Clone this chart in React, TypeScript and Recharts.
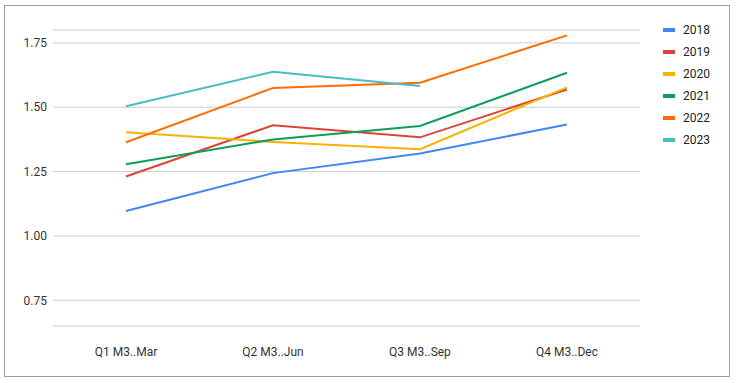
import React from "react";
import { LineChart, Line, XAxis, YAxis, CartesianGrid, Legend } from "recharts";

const categories = ["Q1 M3..Mar", "Q2 M3..Jun", "Q3 M3..Sep", "Q4 M3..Dec"];
const seriesNames = ["2018", "2019", "2020", "2021", "2022", "2023"];
const v2018 = [1.097, 1.244, 1.32, 1.433];
const v2019 = [1.231, 1.43, 1.383, 1.569];
const v2020 = [1.403, 1.365, 1.337, 1.577];
const v2021 = [1.278, 1.375, 1.427, 1.634];
const v2022 = [1.364, 1.575, 1.595, 1.779];
const v2023 = [1.504, 1.638, 1.582, null];
const yTicks = [0.75, 1.0, 1.25, 1.5, 1.75];
const colors = ["#4285F4", "#DB4437", "#F4B400", "#0F9D58", "#FF6D00", "#46BDC6"];

const seriesValues = [v2018, v2019, v2020, v2021, v2022, v2023];
const data = categories.map((c, i) => {
  const row: Record<string, any> = { cat: c };
  seriesNames.forEach((s, j) => {
    row[s] = seriesValues[j][i];
  });
  return row;
});

const font = "Roboto, 'Noto Sans', sans-serif";

const LegendContent = () => (
  <div style={{ fontFamily: font, fontSize: 12, color: "#222" }}>
    {seriesNames.map((s, i) => (
      <div key={s} style={{ display: "flex", alignItems: "center", height: 22 }}>
        <div style={{ width: 12, height: 4, background: colors[i], marginRight: 8 }} />
        <span>{s}</span>
      </div>
    ))}
  </div>
);

export default function App() {
  return (
    <div style={{ position: "absolute", left: 0, top: 0, width: 740, height: 383, background: "#fff" }}>
      <div
        style={{
          position: "absolute",
          left: 4,
          top: 5,
          width: 726,
          height: 372,
          border: "1px solid #9e9e9e",
          boxSizing: "border-box",
        }}
      />
      <div style={{ position: "absolute", left: 0, top: 0 }}>
        <LineChart
          width={740}
          height={383}
          data={data}
          margin={{ top: 30, right: 100, bottom: 27, left: 0 }}
        >
          <CartesianGrid horizontal={true} vertical={false} stroke="#cccccc" />
          <XAxis
            dataKey="cat"
            axisLine={false}
            tickLine={false}
            tickSize={0}
            tickMargin={21}
            height={30}
            padding={{ left: 73, right: 73 }}
            tick={{ fill: "#333", fontSize: 12, fontFamily: font }}
            interval={0}
          />
          <YAxis
            type="number"
            domain={[0.65, 1.8]}
            ticks={yTicks}
            width={53}
            axisLine={false}
            tickLine={false}
            tickSize={0}
            tickMargin={6}
            tickFormatter={(v: number) => v.toFixed(2)}
            tick={{ fill: "#333", fontSize: 12, fontFamily: font }}
          />
          <Legend
            layout="vertical"
            align="center"
            verticalAlign="middle"
            wrapperStyle={{ left: 663, top: 19, width: 70, height: 140 }}
            content={<LegendContent />}
          />
          {seriesNames.map((s, i) => (
            <Line
              key={s}
              type="linear"
              dataKey={s}
              stroke={colors[i]}
              strokeWidth={2}
              dot={false}
              activeDot={false}
              isAnimationActive={false}
              connectNulls={false}
            />
          ))}
        </LineChart>
      </div>
    </div>
  );
}
